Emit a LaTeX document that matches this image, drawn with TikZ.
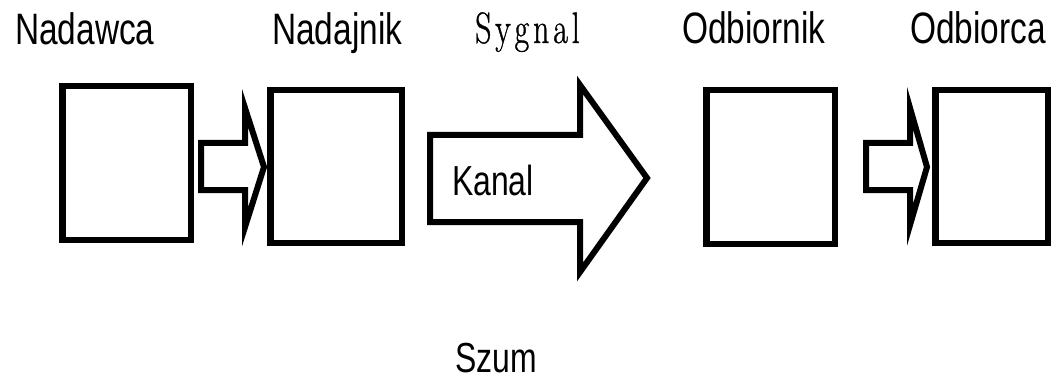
\documentclass[tikz,border=0pt]{standalone}
\usepackage{fontspec}
\setmainfont{Liberation Sans}[FakeStretch=0.76]
\newfontfamily\sygfont{Latin Modern Roman}[FakeStretch=0.72,LetterSpace=9,FakeBold=0.8]
\begin{document}
\begin{tikzpicture}[x=1pt,y=-1pt,
  block/.style={draw=black,line width=6.5pt,fill=white,inner sep=0pt},
  blockarrow/.style={draw=black,line width=6pt,fill=white,line join=miter},
  label/.style={inner sep=0pt,anchor=base west,font=\fontsize{44}{44}\selectfont}]
\useasboundingbox (0,0) rectangle (1051,382);

% stations of the chain
\node[block,minimum width=128.5pt,minimum height=153.5pt] (nadawca)   at (126.5,163)   {};
\node[block,minimum width=131.5pt,minimum height=152.5pt] (nadajnik)  at (336,166.5)   {};
\node[block,minimum width=128.5pt,minimum height=153.5pt] (odbiornik) at (770.5,167)   {};
\node[block,minimum width=112.5pt,minimum height=152.5pt] (odbiorca)  at (991.5,166.5) {};

% block arrows between the stations
\draw[blockarrow] (201,143) -- (245,143) -- (245,108) -- (264,167)
  -- (245,227) -- (245,190) -- (201,190) -- cycle;
\draw[blockarrow] (430,135) -- (580,135) -- (580,85) -- (647,178)
  -- (580,272) -- (580,222) -- (430,222) -- cycle;
\draw[blockarrow] (866,143) -- (910,143) -- (910,108) -- (927,167)
  -- (910,225) -- (910,190) -- (866,190) -- cycle;

% labels
\node[label] (tnadawca)   at (15,45)  {Nadawca};
\node[label] (tnadajnik)  at (272,45) {Nadajnik};
\node[label,font=\fontsize{44}{44}\sygfont] (tsygnal) at (475,43) {Sygnal};
\node[label] (todbiornik) at (682,44) {Odbiornik};
\node[label] (todbiorca)  at (910,44) {Odbiorca};
\node[label,font=\fontsize{42}{42}\selectfont] (tkanal) at (452,195) {Kanal};
\node[label,font=\fontsize{42}{42}\selectfont] (tszum) at (455,372) {Szum};
\end{tikzpicture}
\end{document}
